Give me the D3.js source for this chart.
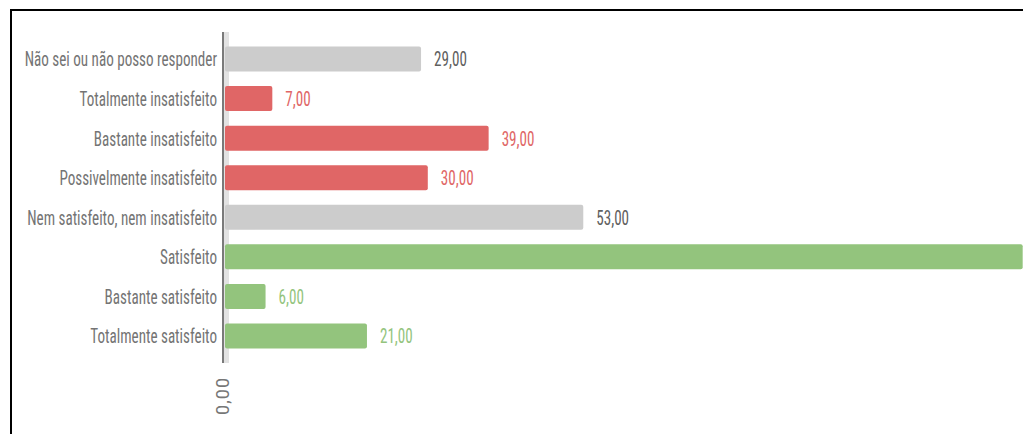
<!DOCTYPE html>
<html>
<head>
<meta charset="utf-8">
<script src="https://cdn.jsdelivr.net/npm/d3@7"></script>
<style>
    body { margin: 0; background: #fff; overflow: hidden; }
    text { font-family: "Liberation Sans Narrow", "Roboto Condensed", Roboto, sans-serif; }
</style>
</head>
<body>
<svg id="chart"></svg>
<script>
var categories = [
    "Não sei ou não posso responder",
    "Totalmente insatisfeito",
    "Bastante insatisfeito",
    "Possivelmente insatisfeito",
    "Nem satisfeito, nem insatisfeito",
    "Satisfeito",
    "Bastante satisfeito",
    "Totalmente satisfeito"
];
var values = [29, 7, 39, 30, 53, 118, 6, 21];
var groups = ["neutral", "bad", "bad", "bad", "neutral", "good", "good", "good"];
var tickValues = [0];

var w = 1023;
var h = 434;

var barColor = { neutral: "#cccccc", bad: "#e06666", good: "#93c47d" };
var labelColor = { neutral: "#606060", bad: "#e06666", good: "#93c47d" };

var svg = d3.select("#chart")
    .attr("width", w)
    .attr("height", h);

// frame around the chart
svg.append("rect")
    .attr("x", 11).attr("y", 10)
    .attr("width", w + 20).attr("height", h + 20)
    .style("fill", "none")
    .style("stroke", "#000")
    .style("stroke-width", 2);

var x = d3.scaleLinear()
    .domain([0, 120])
    .range([225, 225 + 120 * 6.76]);

var y = d3.scaleBand()
    .domain(categories)
    .range([32, 363])
    .padding(0.368);

var sx = 0.72; // text is drawn narrow in the original

// light band next to the axis
svg.append("rect")
    .attr("x", x(0) - 1).attr("y", 32)
    .attr("width", 5).attr("height", 331)
    .style("fill", "#e2e2e2");

// bars
svg.selectAll("rect.bar")
    .data(values)
    .enter()
    .append("rect")
    .attr("class", "bar")
    .attr("x", x(0))
    .attr("y", function (d, i) { return y(categories[i]); })
    .attr("width", function (d) { return x(d) - x(0); })
    .attr("height", y.bandwidth())
    .attr("rx", 2)
    .style("fill", function (d, i) { return barColor[groups[i]]; });

// axis line
svg.append("line")
    .attr("x1", x(0) - 2).attr("x2", x(0) - 2)
    .attr("y1", 32).attr("y2", 363)
    .style("stroke", "#7a7a7a")
    .style("stroke-width", 2);

// category labels
svg.selectAll("text.cat")
    .data(categories)
    .enter()
    .append("text")
    .attr("class", "cat")
    .attr("transform", function (d) {
        return "translate(217," + (y(d) + y.bandwidth() / 2) + ") scale(" + sx + ",1)";
    })
    .attr("dy", "0.35em")
    .attr("text-anchor", "end")
    .style("font-size", "21px")
    .style("fill", "#747474")
    .text(function (d) { return d; });

// value labels (the one past the right edge is cut off in the original too)
var labelled = values.map(function (d, i) { return { v: d, i: i }; })
    .filter(function (d) { return x(d.v) + 13 < w - 40; });

svg.selectAll("text.val")
    .data(labelled)
    .enter()
    .append("text")
    .attr("class", "val")
    .attr("transform", function (d) {
        return "translate(" + (x(d.v) + 13) + "," + (y(categories[d.i]) + y.bandwidth() / 2) + ") scale(" + sx + ",1)";
    })
    .attr("dy", "0.35em")
    .style("font-size", "21px")
    .style("fill", function (d) { return labelColor[groups[d.i]]; })
    .text(function (d) { return d3.format(".2f")(d.v).replace(".", ","); });

// x tick label, rotated
svg.selectAll("text.tick")
    .data(tickValues)
    .enter()
    .append("text")
    .attr("class", "tick")
    .attr("transform", function (d) { return "translate(" + (x(d) - 2) + ",377) rotate(-90)"; })
    .attr("dy", "0.35em")
    .attr("text-anchor", "end")
    .style("font-family", "Roboto, sans-serif")
    .style("font-size", "18px")
    .style("letter-spacing", "1px")
    .style("fill", "#777")
    .text(function (d) { return d3.format(".2f")(d).replace(".", ","); });
</script>
</body>
</html>
